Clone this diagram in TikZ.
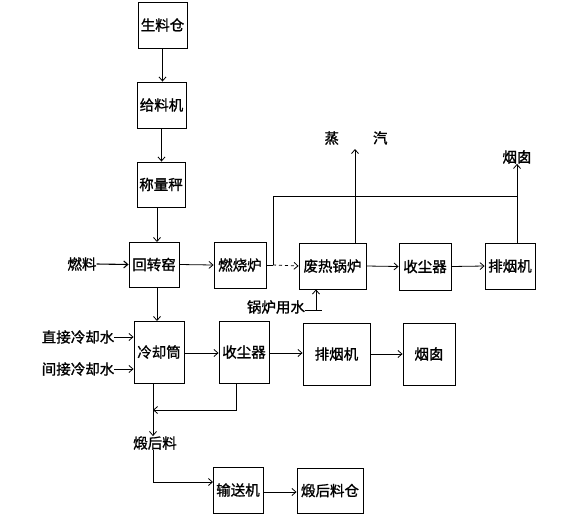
\documentclass[tikz,border=0pt]{standalone}
\usepackage{fontspec}
\newfontfamily\cjkf[FakeBold=1.2]{Noto Sans CJK SC}
\usetikzlibrary{arrows.meta}
\begin{document}
\begin{tikzpicture}[x=1pt,y=-1pt,
  box/.style={draw,line width=0.9pt,inner sep=0pt,minimum width=50pt,minimum height=46pt,font=\cjkf\fontsize{14.5}{16}\selectfont},
  lbl/.style={inner sep=0pt,font=\cjkf\fontsize{14.5}{16}\selectfont},
  conn/.style={line width=0.8pt},
  arr/.style={conn,-{Straight Barb[length=4pt,width=7pt]}}]
\useasboundingbox (0,0) rectangle (583,520);
% boxes
\node[box,minimum width=49pt] (A) at (162.5,25) {生料仓};
\node[box,minimum width=49pt] (B) at (161.5,105) {给料机};
\node[box,minimum width=48pt,minimum height=45pt] (C) at (161,184.5) {称量秤};
\node[box,minimum height=45pt] (D) at (154,264.5) {回转窑};
\node[box,minimum width=52pt] (E) at (240,265) {燃烧炉};
\node[box,minimum width=67pt] (F) at (332.5,266) {废热锅炉};
\node[box,minimum width=52pt,minimum height=47pt] (G) at (425,266.5) {收尘器};
\node[box] (H) at (510,266) {排烟机};
\node[box,minimum height=62pt] (I) at (159,352) {冷却筒};
\node[box,minimum height=62pt] (J) at (244,352) {收尘器};
\node[box,minimum width=67pt,minimum height=62pt] (K) at (336.5,354) {排烟机};
\node[box,minimum width=52pt,minimum height=62pt] (L) at (429,354) {烟囱};
\node[box] (M) at (238,490) {输送机};
\node[box,minimum width=66pt,minimum height=45pt] (N) at (330,490.5) {煅后料仓};
% labels
\node[lbl] (fuel) at (82,264) {燃料};
\node[lbl] (steam) at (356,138) {蒸\hspace{34pt}汽};
\node[lbl] (water) at (276,307) {锅炉用水};
\node[lbl] (chim) at (517,157) {烟囱};
\node[lbl] (dw) at (78,337) {直接冷却水};
\node[lbl] (iw) at (78,369) {间接冷却水};
\node[lbl] (prod) at (155,443) {煅后料};
% coordinates
\coordinate (j1) at (273,265);
\coordinate (wt) at (316,310);
\coordinate (cI) at (153,383);
\coordinate (cJ) at (236,383);
\coordinate (cJb) at (236,410);
\coordinate (cL) at (153,410);
\coordinate (cM) at (213,482);
% vertical chain
\draw[arr] (A.south) -- (A.south |- B.north);
\draw[arr] (B.south) -- (B.south |- C.north);
\draw[arr] (157,207) -- (157,242);
\draw[arr] (157,287) -- (157,321);
% main row
\draw[arr,line width=1.1pt] (fuel.east) -- (D.west);
\draw[arr] (D.east) -- (E.west);
\draw[conn] (E.east) -- (j1);
\draw[arr,dashed] (j1) -- (F.west);
\draw[conn] (j1) -- (273,196) -- (517,196);
\draw[arr] (F.east) -- (G.west);
\draw[arr] (G.east) -- (H.west);
\draw[arr] (355,243) -- (355,149);
\draw[arr] (517,243) -- (chim.south -| 517,0);
\draw[conn] (water.east |- wt) -- (322,310);
\draw[arr] (wt) -- (wt |- F.south);
% cooler row
\draw[arr] (dw.east) -- (dw.east -| I.west);
\draw[arr] (iw.east) -- (iw.east -| I.west);
\draw[arr] (I.east |- 0,353) -- (J.west |- 0,353);
\draw[arr] (J.east |- 0,353) -- (K.west |- 0,353);
\draw[arr] (K.east) -- (L.west);
\draw[arr] (cI) -- (cI |- prod.north);
\draw[arr] (cJ) -- (cJb) -- (cL);
\draw[arr] (prod.south -| cI) -- (153,482) -- (cM);
\draw[arr] (M.east |- 0,492) -- (N.west |- 0,492);
\end{tikzpicture}
\end{document}
